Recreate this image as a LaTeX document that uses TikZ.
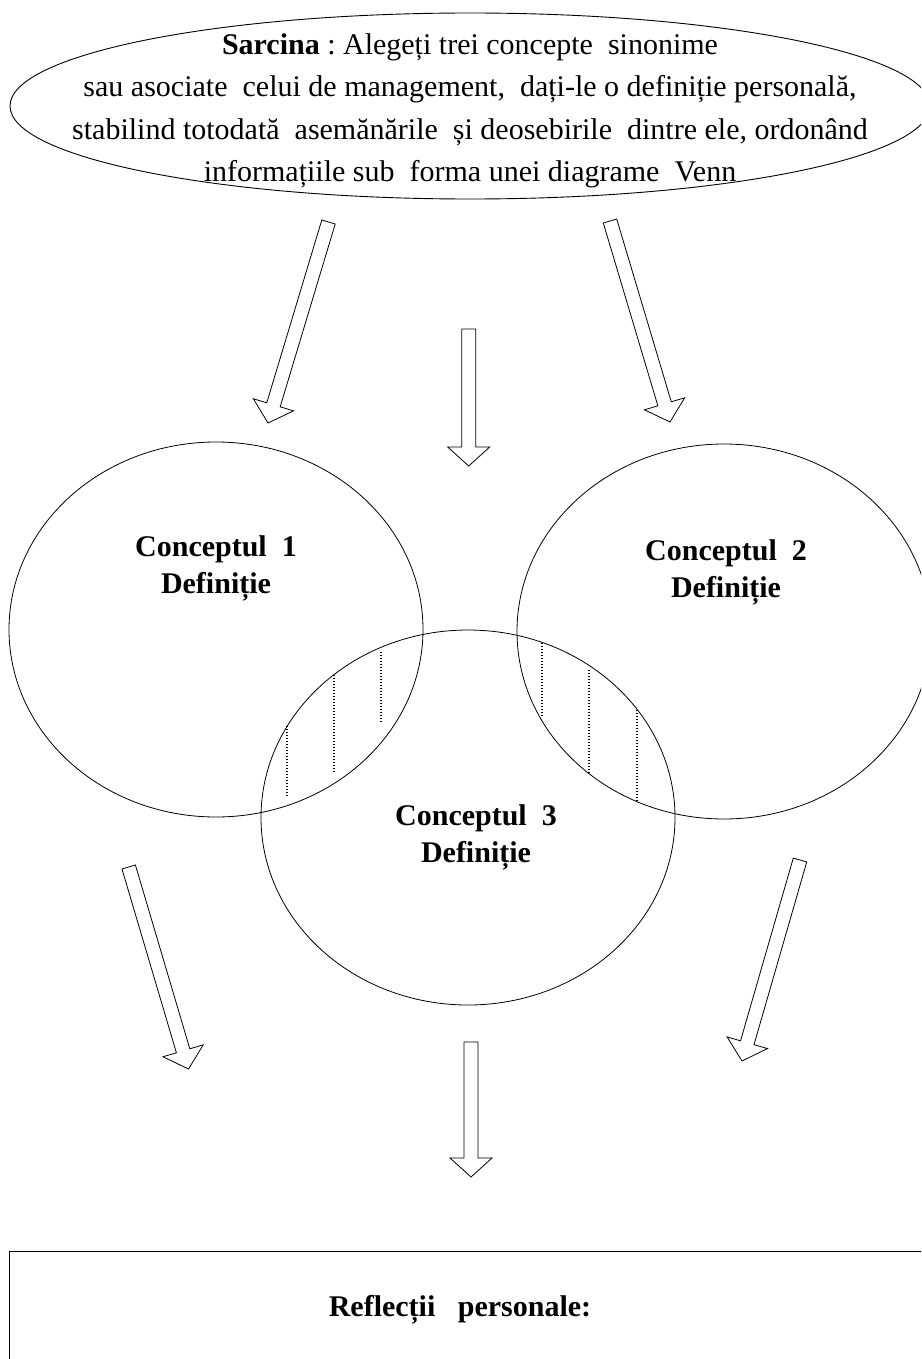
\documentclass[tikz,border=0pt]{standalone}
\usepackage{fontspec}
\setmainfont{Liberation Serif}
\usetikzlibrary{shapes.geometric,calc}
\frenchspacing
\tikzset{
  venn/.style={draw, ellipse, line width=0.8pt, minimum width=414pt, minimum height=375pt, inner sep=0pt},
  taskell/.style={draw, ellipse, line width=0.9pt, minimum width=920pt, minimum height=186pt, inner sep=0pt},
  hollowarrow/.style={draw, line width=0.8pt, fill=white, line join=miter},
  hatch/.style={line width=1.1pt, dash pattern=on 1.2pt off 1.8pt},
  conc/.style={font=\bfseries\fontsize{30}{37}\selectfont, align=center, inner sep=0pt},
  maintext/.style={font=\fontsize{30}{42.5}\selectfont, align=center, inner sep=0pt},
  reflbox/.style={draw, line width=0.9pt},
}
\newcommand{\blockarr}[2]{%
  \coordinate (#1-h) at ($(#2)!19pt!(#1)$);
  \draw[hollowarrow] ($(#1)!7pt!90:(#2)$) -- ($(#1-h)!7pt!90:(#2)$) -- ($(#1-h)!21pt!90:(#2)$) -- (#2)
     -- ($(#1-h)!21pt!-90:(#2)$) -- ($(#1-h)!7pt!-90:(#2)$) -- ($(#1)!7pt!-90:(#2)$) -- cycle;}
\begin{document}
\begin{tikzpicture}[x=1pt, y=-1pt]
\useasboundingbox (0,0) rectangle (921,1359);
\begin{scope}
\clip (0,0) rectangle (921,1359);
% task ellipse
\node[taskell] (task) at (470,106) {};
\node[maintext] (tasktext) at (470,111) {\textbf{Sarcina} : Alegeți trei concepte\ \ sinonime\\
sau asociate\ \ celui de management,\ \ dați-le o definiție personală,\\
stabilind totodată\ \ asemănările\ \ și deosebirile\ \ dintre ele, ordonând\\
informațiile sub\ \ forma unei diagrame\ \ Venn};

% Venn ellipses
\node[venn] (c1) at (216,629.5) {};
\node[venn] (c2) at (724,631.5) {};
\node[venn] (c3) at (468,817.5) {};

\node[conc] (t1) at (216,568) {Conceptul\ \ 1\\Definiție};
\node[conc] (t2) at (726,572) {Conceptul\ \ 2\\Definiție};
\node[conc] (t3) at (476,837) {Conceptul\ \ 3\\Definiție};

% hatching in overlaps
\coordinate (h1a) at (287,726); \coordinate (h1b) at (287,797);
\coordinate (h2a) at (334,675); \coordinate (h2b) at (334,772);
\coordinate (h3a) at (381,652); \coordinate (h3b) at (381,723);
\coordinate (h4a) at (542,643); \coordinate (h4b) at (542,718);
\coordinate (h5a) at (589,670); \coordinate (h5b) at (589,773);
\coordinate (h6a) at (637,710); \coordinate (h6b) at (637,802);
\foreach \i in {1,...,6} {\draw[hatch] (h\i a) -- (h\i b);}

% arrows
\coordinate (a1s) at (328.5,222); \coordinate (a1e) at (268,423);
\coordinate (a2s) at (468.7,329); \coordinate (a2e) at (468.7,466);
\coordinate (a3s) at (610,221);   \coordinate (a3e) at (670,422);
\coordinate (a4s) at (128.7,867); \coordinate (a4e) at (188.5,1069);
\coordinate (a5s) at (471,1042);  \coordinate (a5e) at (471,1177);
\coordinate (a6s) at (800,860);   \coordinate (a6e) at (742,1061);
\blockarr{a1s}{a1e}
\blockarr{a2s}{a2e}
\blockarr{a3s}{a3e}
\blockarr{a4s}{a4e}
\blockarr{a5s}{a5e}
\blockarr{a6s}{a6e}

% reflection box
\draw[reflbox] (9,1251) rectangle (940,1380);
\node[conc] (refl) at (460,1310) {Reflecții\ \ \ personale:};
\end{scope}
\end{tikzpicture}
\end{document}
